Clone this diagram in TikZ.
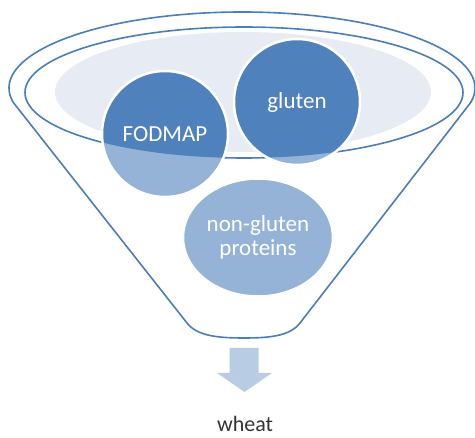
\documentclass[tikz,border=0pt]{standalone}
\usepackage{fontspec}
\setmainfont{Carlito}
\usetikzlibrary{shapes.geometric}
\definecolor{rimblue}{RGB}{74,126,187}
\definecolor{darkball}{RGB}{79,129,189}
\definecolor{lightball}{RGB}{149,179,215}
\definecolor{bowlfill}{RGB}{230,235,244}
\definecolor{arrowblue}{RGB}{184,204,228}
\definecolor{textgray}{RGB}{51,51,51}
\tikzset{
  rim/.style={draw=rimblue, line width=1.6pt},
  ball/.style={circle, draw=white, line width=2.5pt, minimum size=126pt,
    inner sep=0pt, text=white, align=center,
    font=\fontsize{23}{24}\selectfont},
}

\begin{document}
\begin{tikzpicture}[x=1pt, y=-1pt]
  \useasboundingbox (0,0) rectangle (475,438);
  % funnel
  \draw[rim, line join=round] (13.3,102.5)
    arc[start angle=169, end angle=371, x radius=233, y radius=76]
    -- (300,323) .. controls (290,336) and (270,338) .. (244,338)
    .. controls (218,338) and (197,336) .. (187,323) -- cycle;
  \fill[bowlfill] (243,92) ellipse [x radius=188, y radius=60];
  \coordinate (bowl) at (244,92.5);
  \draw[rim] (bowl) ellipse [x radius=219, y radius=65.5];
  % balls
  \coordinate (fodmapc) at (165,134);
  \coordinate (glutenc) at (297,102);
  \fill[lightball] (fodmapc) circle (63) (glutenc) circle (63);
  \begin{scope}
    \clip (bowl) ellipse [x radius=219, y radius=65.5];
    \fill[darkball] (fodmapc) circle (63) (glutenc) circle (63);
  \end{scope}
  \node[ball] (fodmap) at (fodmapc) {FODMAP};
  \node[ball] (gluten) at (glutenc) {gluten};
  \node[ball, ellipse, fill=lightball, minimum width=150pt,
    minimum height=118pt] (nongluten) at (258,237.5) {non-gluten\\proteins};
  % output
  \fill[arrowblue] (229.5,348) -- (258.5,348) -- (258.5,373) -- (272,373)
    -- (244.5,392) -- (217,373) -- (229.5,373) -- cycle;
  \node[text=textgray, inner sep=0pt, font=\fontsize{22}{24}\selectfont]
    (wheat) at (245,424) {wheat};
\end{tikzpicture}
\end{document}
